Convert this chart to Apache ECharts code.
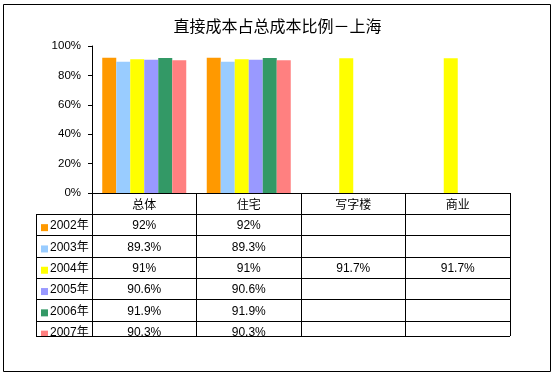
<!DOCTYPE html>
<html><head><meta charset="utf-8">
<script src="https://cdn.jsdelivr.net/npm/echarts@6/dist/echarts.min.js"></script>
<style>html,body{margin:0;padding:0;background:#fff}#c{width:555px;height:376px}</style>
</head><body><div id="c"></div>
<script>
// ---- data ----
const title = '直接成本占总成本比例－上海';
const categories = ['总体', '住宅', '写字楼', '商业'];
const years = ['2002年', '2003年', '2004年', '2005年', '2006年', '2007年'];
const v2002 = [92, 92, null, null];
const v2003 = [89.3, 89.3, null, null];
const v2004 = [91, 91, 91.7, 91.7];
const v2005 = [90.6, 90.6, null, null];
const v2006 = [91.9, 91.9, null, null];
const v2007 = [90.3, 90.3, null, null];
const yMin = 0, yMax = 100, yStep = 20;
// ---- styles ----
const palette = ['#FF9900', '#99CCFF', '#FFFF00', '#9999FF', '#339966', '#FF8080'];
const seriesData = [v2002, v2003, v2004, v2005, v2006, v2007];
const FONT = "'Liberation Sans','Noto Sans CJK SC',sans-serif";

const G = {left: 92, right: 45, top: 46, bottom: 183};
const tableBottom = 336;
const rowH = 21.3;
const headerH = 21;
const legendLeft = 36;

const chart = echarts.init(document.getElementById('c'), null, {renderer: 'canvas'});
chart.setOption({
  animation: false,
  backgroundColor: '#fff',
  title: {text: title, left: 'center', top: 13,
    textStyle: {fontFamily: "'Noto Sans CJK SC',sans-serif", fontSize: 16, fontWeight: 'normal', color: '#000'}},
  grid: G,
  xAxis: {type: 'category', data: categories,
    axisLine: {lineStyle: {color: '#000', width: 1}},
    axisTick: {show: true, length: tableBottom - (376 - G.bottom), lineStyle: {color: '#000'}},
    axisLabel: {margin: 5, color: '#000', fontSize: 12, fontFamily: "'Noto Sans CJK SC',sans-serif"},
    splitLine: {show: false}},
  yAxis: {type: 'value', min: yMin, max: yMax, interval: yStep,
    axisLine: {show: true, lineStyle: {color: '#000'}},
    axisTick: {show: true, length: 4, lineStyle: {color: '#000'}},
    axisLabel: {formatter: '{value}%', margin: 11, color: '#000', fontSize: 11.5, fontFamily: FONT},
    splitLine: {show: false}},
  series: years.map((y, i) => ({
    name: y, type: 'bar', data: seriesData[i], barWidth: 14, barGap: '0%',
    itemStyle: {color: palette[i]}
  }))
});

// ---- data table drawn from the arrays, positioned with the axis scale ----
const axisY = 376 - G.bottom;
const band = chart.convertToPixel({xAxisIndex: 0}, categories[1]) - chart.convertToPixel({xAxisIndex: 0}, categories[0]);
const lastX = chart.convertToPixel({xAxisIndex: 0}, categories[categories.length - 1]) + band / 2;
const els = [];
const lineStyle = {stroke: '#000', lineWidth: 1};
for (let r = 0; r < years.length; r++) {
  const y = Math.round(axisY + headerH + r * rowH) + 0.5;
  els.push({type: 'line', shape: {x1: legendLeft, y1: y, x2: lastX, y2: y}, style: lineStyle, z: 10});
}
els.push({type: 'line', shape: {x1: legendLeft, y1: tableBottom + 0.5, x2: lastX, y2: tableBottom + 0.5}, style: lineStyle, z: 10});
els.push({type: 'line', shape: {x1: legendLeft + 0.5, y1: axisY + headerH, x2: legendLeft + 0.5, y2: tableBottom + 0.5}, style: lineStyle, z: 10});
years.forEach((yr, r) => {
  const cy = axisY + headerH + (r + 0.5) * rowH + 1.5;
  els.push({type: 'rect', shape: {x: legendLeft + 5, y: cy - 2, width: 7, height: 7}, style: {fill: palette[r]}, z: 9});
  els.push({type: 'text', x: legendLeft + 14, y: cy, style: {text: yr, fill: '#000', font: "12px 'Liberation Sans','Noto Sans CJK SC',sans-serif", verticalAlign: 'middle'}, z: 9});
  categories.forEach((c, k) => {
    const v = seriesData[r][k];
    if (v == null) return;
    const cx = chart.convertToPixel({xAxisIndex: 0}, c);
    els.push({type: 'text', x: cx, y: cy, style: {text: v + '%', fill: '#000', font: "12px 'Liberation Sans',sans-serif", align: 'center', verticalAlign: 'middle'}, z: 9});
  });
});
els.push({type: 'rect', shape: {x: 20, y: tableBottom + 0.5, width: 520, height: 30}, style: {fill: '#fff'}, z: 9.5});
els.push({type: 'rect', shape: {x: 3.5, y: 4.5, width: 547, height: 367}, style: {fill: 'none', stroke: '#000', lineWidth: 1}, z: 20});
chart.setOption({graphic: {elements: els}});
</script></body></html>
